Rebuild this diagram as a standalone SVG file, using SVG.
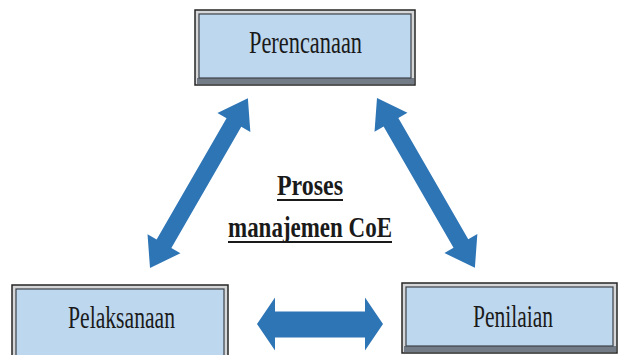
<svg xmlns="http://www.w3.org/2000/svg" width="620" height="355" viewBox="0 0 620 355">
  <style>
    .outer { fill: #d4d6d8; stroke: #262626; stroke-width: 1.5; }
    .shadow { fill: #737c86; }
    .inner { fill: #bdd7ee; stroke: #3c4248; stroke-width: 1.2; }
    .lbl { font-family: "Liberation Serif", "DejaVu Serif", serif; font-size: 31px; fill: #1a1a1a; text-anchor: middle; }
    .title { font-family: "Liberation Serif", "DejaVu Serif", serif; font-size: 30px; font-weight: bold; fill: #1a1a1a; text-anchor: middle; }
    .uline { stroke: #1a1a1a; stroke-width: 2; }
    .arrow { fill: #2e75b6; }
  </style>
  <rect width="620" height="355" fill="#ffffff"/>

  <g id="node-perencanaan">
    <rect class="outer" x="195" y="10" width="220" height="75"/>
    <rect class="shadow" x="197" y="78" width="217" height="6"/>
    <rect class="inner" x="199" y="14" width="212" height="64"/>
    <text class="lbl" x="305.5" y="53" textLength="113" lengthAdjust="spacingAndGlyphs">Perencanaan</text>
  </g>

  <g id="node-pelaksanaan">
    <rect class="outer" x="12" y="285" width="216" height="75"/>
    <rect class="inner" x="16" y="289" width="208" height="70"/>
    <text class="lbl" x="121.5" y="328" textLength="107" lengthAdjust="spacingAndGlyphs">Pelaksanaan</text>
  </g>

  <g id="node-penilaian">
    <rect class="outer" x="402" y="283" width="215" height="70"/>
    <rect class="shadow" x="404" y="346" width="212" height="6"/>
    <rect class="inner" x="406" y="287" width="207" height="59"/>
    <text class="lbl" x="513" y="327" textLength="80" lengthAdjust="spacingAndGlyphs">Penilaian</text>
  </g>

  <g id="label-proses">
    <text class="title" x="310" y="195" textLength="66" lengthAdjust="spacingAndGlyphs">Proses</text>
    <line class="uline" x1="277" y1="200" x2="343" y2="200"/>
    <text class="title" x="310" y="237" textLength="164" lengthAdjust="spacingAndGlyphs">manajemen CoE</text>
    <line class="uline" x1="228" y1="242" x2="392" y2="242"/>
  </g>

  <g id="connectors">
    <polygon class="arrow" transform="translate(150,268) rotate(-60.04)" points="0,0 28,-19 28,-8.5 168,-8.5 168,-19 196,0 168,19 168,8.5 28,8.5 28,19"/>
    <polygon class="arrow" transform="translate(377,98) rotate(60.04)" points="0,0 28,-19 28,-8.5 168,-8.5 168,-19 196,0 168,19 168,8.5 28,8.5 28,19"/>
    <polygon class="arrow" points="257,324 275,297.5 275,311.5 365,311.5 365,297.5 383,324 365,350.5 365,337.5 275,337.5 275,350.5"/>
  </g>
</svg>
